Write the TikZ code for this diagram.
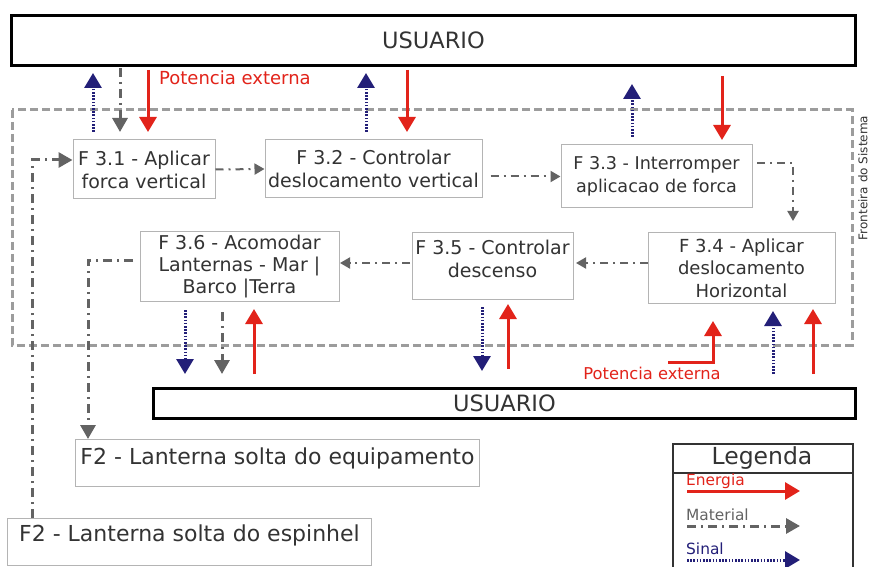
\documentclass[tikz,border=0pt]{standalone}
\usepackage{fontspec}
\setmainfont{DejaVu Sans}
\usetikzlibrary{arrows.meta,calc}
\definecolor{ered}{HTML}{E2231A}
\definecolor{snavy}{HTML}{231F78}
\definecolor{mgray}{HTML}{636363}
\definecolor{bgray}{HTML}{B4B4B4}
\definecolor{tgray}{HTML}{333333}
\begin{document}
\begin{tikzpicture}[x=1pt,y=-1pt,
  fbox/.style={draw=bgray, line width=1pt, text=tgray, align=center, inner sep=2pt,
    font=\fontsize{19}{23}\selectfont},
  usr/.style={draw=black, line width=3pt, font=\fontsize{22.5}{26}\selectfont, text=tgray},
  energy/.style={draw=ered, line width=3pt, -{Triangle[length=15pt,width=17pt]}, color=ered},
  signal/.style={draw=snavy, line width=3pt, dash pattern=on 1.6pt off 1.6pt, -{Triangle[length=15pt,width=17pt]}, color=snavy},
  material/.style={draw=mgray, line width=3pt, dash pattern=on 9pt off 5pt on 2pt off 5pt, -{Triangle[length=14pt,width=15pt]}, color=mgray},
  hmat/.style={draw=mgray, line width=2pt, dash pattern=on 8pt off 5pt on 2pt off 5pt, -{Triangle[length=10pt,width=11pt]}, color=mgray},
]
\useasboundingbox (0,0) rectangle (871,567);
\fill[white] (0,0) rectangle (871,567);

% system boundary
\draw[bgray!70!mgray, line width=3pt, dash pattern=on 8pt off 4pt] (12,110) rectangle (852,345);
\node[rotate=90, text=tgray, font=\fontsize{12}{13}\selectfont, inner sep=0pt] (front) at (863,178) {Fronteira do Sistema};

% users
\node[usr, minimum width=844pt, minimum height=50pt] (usr1) at (433.5,40.5) {USUARIO};
\node[usr, minimum width=702pt, minimum height=30pt, inner sep=0pt] (usr2) at (504.5,403.5) {USUARIO};

% functions
\node[fbox, minimum width=142pt, minimum height=59pt] (f31) at (144,169.5) {F 3.1 - Aplicar\\forca vertical};
\node[fbox, minimum width=217pt, minimum height=58pt] (f32) at (373.5,169) {F 3.2 - Controlar\\deslocamento vertical};
\node[fbox, minimum width=191pt, minimum height=63pt, font=\fontsize{17.6}{23}\selectfont] (f33) at (656.5,176.5) {F 3.3 - Interromper\\aplicacao de forca};
\node[fbox, minimum width=187pt, minimum height=70pt, font=\fontsize{18}{22.5}\selectfont] (f34) at (741.5,268) {F 3.4 - Aplicar\\deslocamento\\Horizontal};
\node[fbox, minimum width=161pt, minimum height=66pt, text depth=14pt] (f35) at (492.5,266) {F 3.5 - Controlar\\descenso};
\node[fbox, minimum width=199pt, minimum height=69pt, font=\fontsize{19}{22}\selectfont] (f36) at (239.5,266.5) {F 3.6 - Acomodar\\Lanternas - Mar |\\Barco |Terra};

\node[fbox, anchor=north west, minimum width=404pt, inner xsep=2pt, inner ysep=6pt,
  text height=19pt, text depth=16pt, font=\fontsize{22}{26}\selectfont] (f2a) at (75,439) {F2 - Lanterna solta do equipamento};
\node[fbox, anchor=north west, minimum width=364pt, inner xsep=2pt, inner ysep=6pt,
  text height=17pt, text depth=18pt, font=\fontsize{22}{26}\selectfont] (f2b) at (7,518) {F2 - Lanterna solta do espinhel};

% legend
\node[draw=tgray, line width=1.5pt, anchor=north west, minimum width=180pt, minimum height=130pt] (leg) at (672,443) {};
\draw[tgray, line width=1.5pt] (leg.north west |- 0,473) -- (leg.north east |- 0,473);
\node[text=tgray, font=\fontsize{23.5}{26}\selectfont] (legt) at (762,458) {Legenda};
\coordinate (le1) at (687,491); \coordinate (le2) at (800,491);
\coordinate (lm1) at (687,526); \coordinate (lm2) at (800,526);
\coordinate (ls1) at (687,560); \coordinate (ls2) at (800,560);
\draw[energy] (le1) -- (le2);
\draw[material] (lm1) -- (lm2);
\draw[signal] (ls1) -- (ls2);
\node[anchor=west, text=ered, font=\fontsize{15.4}{17}\selectfont, inner sep=0pt] (lte) at (686,481) {Energia};
\node[anchor=west, text=mgray, font=\fontsize{15.4}{17}\selectfont, inner sep=0pt] (ltm) at (686,515) {Material};
\node[anchor=west, text=snavy, font=\fontsize{15.4}{17}\selectfont, inner sep=0pt] (lts) at (686,549) {Sinal};

% top arrows
\coordinate (s1a) at (93,132); \coordinate (s1b) at (93,73);
\coordinate (m1a) at (120,68); \coordinate (m1b) at (120,132);
\coordinate (e1a) at (148,70); \coordinate (e1b) at (148,132);
\coordinate (s2a) at (366,132); \coordinate (s2b) at (366,73);
\coordinate (e2a) at (407,70); \coordinate (e2b) at (407,132);
\coordinate (s3a) at (632,137); \coordinate (s3b) at (632,84);
\coordinate (e3a) at (722,76); \coordinate (e3b) at (722,140);
\draw[signal] (s1a) -- (s1b);
\draw[material] (m1a) -- (m1b);
\draw[energy] (e1a) -- (e1b);
\draw[signal] (s2a) -- (s2b);
\draw[energy] (e2a) -- (e2b);
\draw[signal] (s3a) -- (s3b);
\draw[energy] (e3a) -- (e3b);
\node[anchor=west, text=ered, font=\fontsize{18}{20}\selectfont, inner sep=0pt] (pe1) at (159,78) {Potencia externa};

% flow between functions
\draw[hmat] (f31.east) -- (f32.west);
\draw[hmat, shorten <=8pt] (f32.east |- f33.west) -- (f33.west);
\coordinate (c33a) at (757,163); \coordinate (c33b) at (793,163); \coordinate (c33c) at (793,221);
\draw[hmat] (c33a) -- (c33b) -- (c33c);
\coordinate (c34a) at (648,263); \coordinate (c34b) at (576,263);
\draw[hmat] (c34a) -- (c34b);
\coordinate (c35a) at (410,263); \coordinate (c35b) at (340,263);
\draw[hmat] (c35a) -- (c35b);
\coordinate (c36a) at (133,260); \coordinate (c36b) at (88,260);
\draw[material] (c36a) -- (c36b) -- (c36b |- f2a.north);
\coordinate (c2b) at (32,160);
\draw[material] (f2b.north -| c2b) -- (c2b) -- (f31.west |- c2b);

% bottom arrows
\coordinate (s4a) at (185,310); \coordinate (s4b) at (185,374);
\coordinate (m4a) at (222,312); \coordinate (m4b) at (222,374);
\coordinate (e4a) at (254,374); \coordinate (e4b) at (254,309);
\coordinate (s5a) at (482,307); \coordinate (s5b) at (482,371);
\coordinate (e5a) at (508,369); \coordinate (e5b) at (508,304);
\coordinate (e6a) at (668,362); \coordinate (e6b) at (713,362); \coordinate (e6c) at (713,321);
\coordinate (s7a) at (773,374); \coordinate (s7b) at (773,311);
\coordinate (e7a) at (813,374); \coordinate (e7b) at (813,309);
\draw[signal] (s4a) -- (s4b);
\draw[material] (m4a) -- (m4b);
\draw[energy] (e4a) -- (e4b);
\draw[signal] (s5a) -- (s5b);
\draw[energy] (e5a) -- (e5b);
\draw[energy] (e6a) -- (e6b) -- (e6c);
\draw[signal] (s7a) -- (s7b);
\draw[energy] (e7a) -- (e7b);
\node[text=ered, font=\fontsize{16.3}{18}\selectfont, inner sep=0pt] (pe2) at (652,373) {Potencia externa};
\end{tikzpicture}
\end{document}
